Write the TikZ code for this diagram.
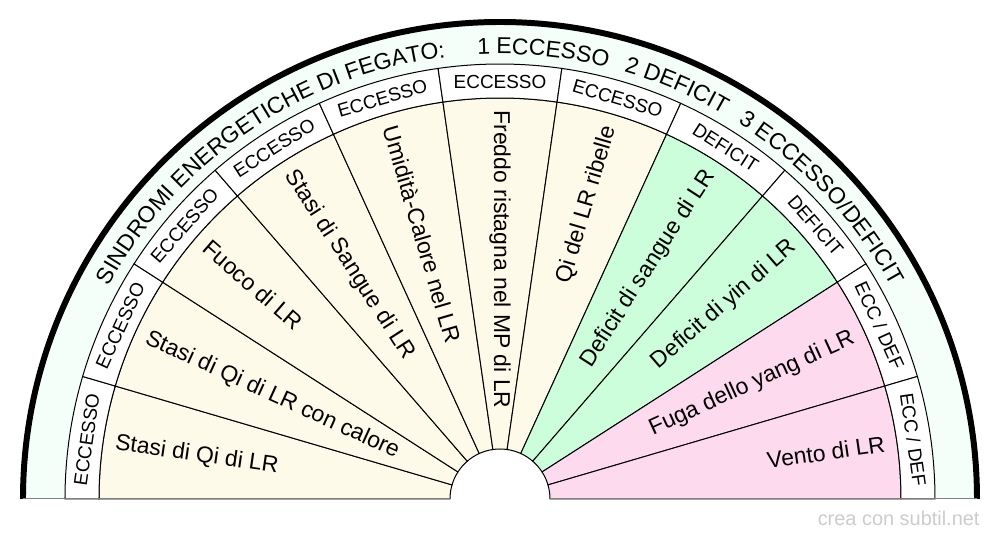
\documentclass[tikz,border=0pt]{standalone}
\usepackage{fontspec}
\setmainfont{Liberation Sans}
\usetikzlibrary{decorations.text}
\definecolor{eccesso}{HTML}{FEFAE9}
\definecolor{deficit}{HTML}{CCFEDB}
\definecolor{eccdef}{HTML}{FEDAEE}
\definecolor{titleband}{HTML}{F5FFF9}
\definecolor{credit}{HTML}{CCCCCC}
\begin{document}
\begin{tikzpicture}[line width=0.57pt]
  \useasboundingbox (-10,-0.82) rectangle (10,9.98);
  \fill[titleband] (-9.54,0) arc[start angle=180, end angle=0, radius=9.54]
    -- (8.7,0) arc[start angle=0, end angle=180, radius=8.7] -- cycle;
  \foreach \i/\col in {0/eccesso,1/eccesso,2/eccesso,3/eccesso,4/eccesso,5/eccesso,
                       6/eccesso,7/deficit,8/deficit,9/eccdef,10/eccdef} {
    \pgfmathsetmacro\a{180-\i*180/11}
    \pgfmathsetmacro\b{180-(\i+1)*180/11}
    \filldraw[fill=\col] (\a:1) -- (\a:8.02) arc[start angle=\a, end angle=\b, radius=8.02]
      -- (\b:1) arc[start angle=\b, end angle=\a, radius=1] -- cycle;
    \filldraw[fill=white] (\a:8.02) -- (\a:8.7) arc[start angle=\a, end angle=\b, radius=8.7]
      -- (\b:8.02) arc[start angle=\b, end angle=\a, radius=8.02] -- cycle;
  }
  \draw[line width=3.4pt] (-9.54,0) arc[start angle=180, end angle=0, radius=9.54];
  \draw[black!50] (-9.54,0) -- (-1,0) (1,0) -- (9.54,0);
  \begin{scope}[every node/.style={font=\fontsize{13.04}{15}\selectfont, inner sep=0pt}]
    \foreach \i/\txt in {0/Stasi di Qi di LR, 1/Stasi di Qi di LR con calore, 2/Fuoco di LR,
                         3/Stasi di Sangue di LR, 4/Umidità-Calore nel LR,
                         5/Freddo ristagna nel MP di LR, 6/Qi del LR ribelle,
                         7/Deficit di sangue di LR, 8/Deficit di yin di LR,
                         9/Fuga dello yang di LR, 10/Vento di LR} {
      \pgfmathsetmacro\m{180-(\i+0.5)*180/11}
      \ifdim\m pt<89pt
        \node[rotate=\m, anchor=east] (sindrome\i) at (\m:7.78) {\txt};
      \else
        \node[rotate=\m-180, anchor=west] (sindrome\i) at (\m:7.78) {\txt};
      \fi
    }
  \end{scope}
  \begin{scope}[every node/.style={font=\fontsize{10.77}{12}\selectfont, inner sep=0pt}]
    \foreach \i/\tag in {0/ECCESSO,1/ECCESSO,2/ECCESSO,3/ECCESSO,4/ECCESSO,5/ECCESSO,
                         6/ECCESSO,7/DEFICIT,8/DEFICIT,9/{ECC / DEF},10/{ECC / DEF}} {
      \pgfmathsetmacro\m{180-(\i+0.5)*180/11}
      \node[rotate=\m-90] (tipo\i) at (\m:8.35) {\tag};
    }
  \end{scope}
  \path[decorate, decoration={text along path, text align=center,
    text={|\fontsize{13.04}{15}\selectfont|SINDROMI ENERGETICHE DI FEGATO:{\kern0.64cm}1 ECCESSO{\kern0.34cm}2 DEFICIT{\kern0.34cm}3 ECCESSO/DEFICIT}}]
    (-8.9,0) arc[start angle=180, end angle=0, radius=8.9];
  \node[anchor=base east, inner sep=0pt, text=credit, font=\fontsize{11.34}{13}\selectfont] (firma) at (9.6,-0.54) {crea con subtil.net};
\end{tikzpicture}
\end{document}
